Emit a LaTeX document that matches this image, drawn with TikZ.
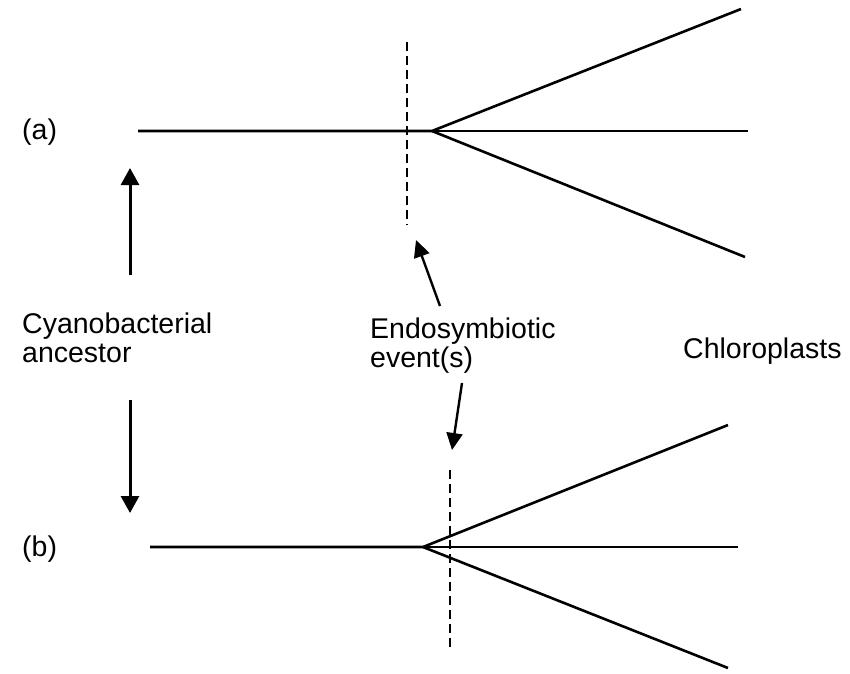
\documentclass[tikz,border=0pt]{standalone}
\usepackage{fontspec}
\setmainfont{Liberation Sans}
\usetikzlibrary{arrows.meta}

\begin{document}
\begin{tikzpicture}[x=1pt,y=-1pt,
  branch/.style={line width=2.6pt},
  eventcut/.style={line width=2.6pt, dash pattern=on 9pt off 5pt},
  bigarrow/.style={line width=3pt, -{Triangle[length=17pt,width=18pt]}},
  smallarrow/.style={line width=2.4pt, -{Triangle[length=17pt,width=16pt]}},
  txt/.style={font=\fontsize{28.5}{29}\selectfont, inner sep=0pt, align=left}]

% Cornice
\useasboundingbox (0,0) rectangle (850,673);

% Albero (a)
\coordinate (aStart) at (138,131);
\coordinate (aFork) at (432,131);
\coordinate (aUp) at (741,9);
\coordinate (aMid) at (748,131);
\coordinate (aLow) at (745,257);
\draw[branch] (aStart) -- (aFork) -- (aUp);
\draw[branch] (aFork) -- (aMid);
\draw[branch] (aFork) -- (aLow);
\coordinate (aCutTop) at (407,42);
\coordinate (aCutBot) at (407,225);
\draw[eventcut] (aCutTop) -- (aCutBot);

% Albero (b)
\coordinate (bStart) at (150,547);
\coordinate (bFork) at (423,547);
\coordinate (bUp) at (728,425);
\coordinate (bMid) at (738,547);
\coordinate (bLow) at (728,668);
\draw[branch] (bStart) -- (bFork) -- (bUp);
\draw[branch] (bFork) -- (bMid);
\draw[branch] (bFork) -- (bLow);
\coordinate (bCutTop) at (450,470);
\coordinate (bCutBot) at (450,650);
\draw[eventcut] (bCutTop) -- (bCutBot);

% Etichette (base = ultima riga)
\node[txt, anchor=west] (labA) at (22,132) {(a)};
\node[txt, anchor=west] (labB) at (22,549) {(b)};
\node[txt, anchor=base west] (ancestor) at (22,362) {Cyanobacterial\\ancestor};
\node[txt, anchor=base west] (event) at (370,367) {Endosymbiotic\\event(s)};
\node[txt, anchor=base west] (chloro) at (683,358) {Chloroplasts};

% Frecce
\coordinate (ancUp) at (130,275);
\coordinate (ancUpTip) at (130,168);
\coordinate (ancDown) at (130,400);
\coordinate (ancDownTip) at (130,513);
\draw[bigarrow] (ancUp) -- (ancUpTip);
\draw[bigarrow] (ancDown) -- (ancDownTip);

\coordinate (evUp) at (440,306);
\coordinate (evUpTip) at (416,240);
\coordinate (evDown) at (462,383);
\coordinate (evDownTip) at (452,450);
\draw[smallarrow] (evUp) -- (evUpTip);
\draw[smallarrow] (evDown) -- (evDownTip);

\end{tikzpicture}
\end{document}
